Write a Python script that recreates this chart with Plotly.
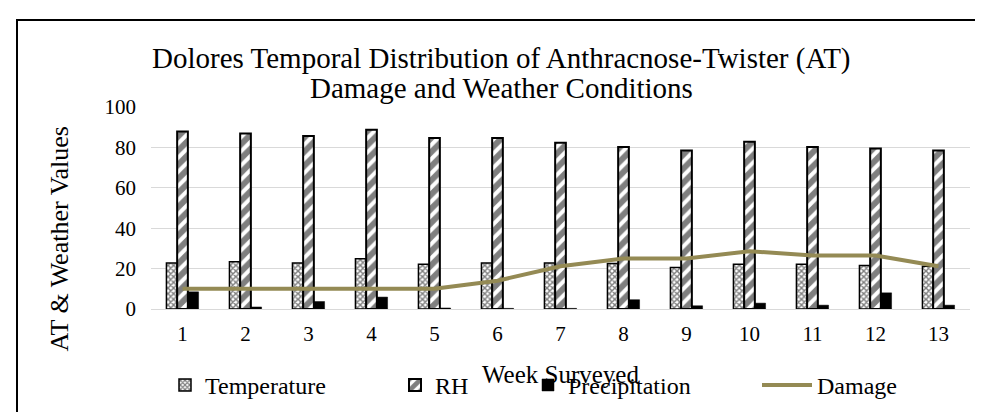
import plotly.graph_objects as go

weeks = ["1", "2", "3", "4", "5", "6", "7", "8", "9", "10", "11", "12", "13"]
temperature = [22.8, 23.4, 22.8, 24.9, 22.2, 22.8, 22.8, 22.5, 20.6, 22.2, 22.2, 21.5, 21.2]
rh = [87.9, 86.9, 85.7, 88.7, 84.7, 84.7, 82.3, 80.2, 78.5, 82.8, 80.2, 79.4, 78.5]
precipitation = [8.5, 1.0, 3.7, 5.9, 0.5, 0.3, 0.3, 4.6, 1.6, 2.9, 1.9, 8.0, 1.9]
damage = [10, 10, 10, 10, 10, 14, 21.2, 25, 25, 28.6, 26.5, 26.5, 21.2]

FONT = "Liberation Serif"
W, H = 983, 412
ML, MR, MT, MB = 143, 21, 99, 104
PW, PH = W - ML - MR, H - MT - MB


def px(x):
    return (x - ML) / PW


def py(y):
    return (H - MB - y) / PH


fig = go.Figure()
fig.add_trace(go.Bar(
    x=weeks, y=temperature, name="Temperature", legend="legend", showlegend=True,
    marker=dict(color="white", line=dict(color="black", width=1.5),
                pattern=dict(shape="x", size=4, solidity=0.6, fgcolor="black", bgcolor="white")),
))
fig.add_trace(go.Bar(
    x=weeks, y=rh, name="RH", legend="legend2", showlegend=True,
    marker=dict(color="white", line=dict(color="black", width=2),
                pattern=dict(shape="/", size=10, solidity=0.6, fgcolor="black", bgcolor="white")),
))
fig.add_trace(go.Bar(
    x=weeks, y=precipitation, name="Precipitation", legend="legend3", showlegend=True,
    marker=dict(color="black", line=dict(color="black", width=0.5)),
))
fig.add_trace(go.Scatter(
    x=weeks, y=damage, name="Damage", mode="lines", legend="legend4", showlegend=True,
    line=dict(color="#948A54", width=4),
))

legfont = dict(family=FONT, size=24, color="black")
common = dict(orientation="h", yanchor="middle", y=py(387), xanchor="left",
              font=legfont, bgcolor="rgba(0,0,0,0)", borderwidth=0)

fig.update_layout(
    width=W, height=H,
    showlegend=True,
    margin=dict(l=ML, r=MR, t=MT, b=MB),
    paper_bgcolor="white", plot_bgcolor="white",
    font=dict(family=FONT, color="black"),
    barmode="group", bargap=0.49, bargroupgap=0,
    legend=dict(x=px(157), **common),
    legend2=dict(x=px(387), **common),
    legend3=dict(x=px(520), **common),
    legend4=dict(x=px(749), itemwidth=50, **common),
    xaxis=dict(type="category", showgrid=False, zeroline=False,
               showline=True, linecolor="#d9d9d9", linewidth=1,
               ticks="", tickfont=dict(family=FONT, size=21, color="black"),
               ticklabelstandoff=6),
    yaxis=dict(range=[0, 100], dtick=20, showgrid=True, gridcolor="#d9d9d9", gridwidth=1,
               zeroline=False, showline=False, ticks="",
               tickfont=dict(family=FONT, size=21, color="black"),
               ticklabelstandoff=14),
    annotations=[
        dict(text="Dolores Temporal Distribution of Anthracnose-Twister (AT)",
             x=px(493), y=py(49), xref="paper", yref="paper",
             xanchor="center", yanchor="middle", showarrow=False,
             font=dict(family=FONT, size=29, color="black")),
        dict(text="Damage and Weather Conditions",
             x=px(493), y=py(79), xref="paper", yref="paper",
             xanchor="center", yanchor="middle", showarrow=False,
             font=dict(family=FONT, size=29, color="black")),
        dict(text="Week Surveyed",
             x=px(552), y=py(376), xref="paper", yref="paper",
             xanchor="center", yanchor="middle", showarrow=False,
             font=dict(family=FONT, size=25, color="black")),
        dict(text="AT & Weather Values", textangle=-90,
             x=px(51), y=py(236), xref="paper", yref="paper",
             xanchor="center", yanchor="middle", showarrow=False,
             font=dict(family=FONT, size=26, color="black")),
    ],
    shapes=[
        dict(type="rect", xref="paper", yref="paper",
             x0=px(9), x1=px(986), y0=py(440), y1=py(9),
             line=dict(color="black", width=2), fillcolor="rgba(0,0,0,0)", layer="below"),
    ],
)

fig.write_html("out.html")
